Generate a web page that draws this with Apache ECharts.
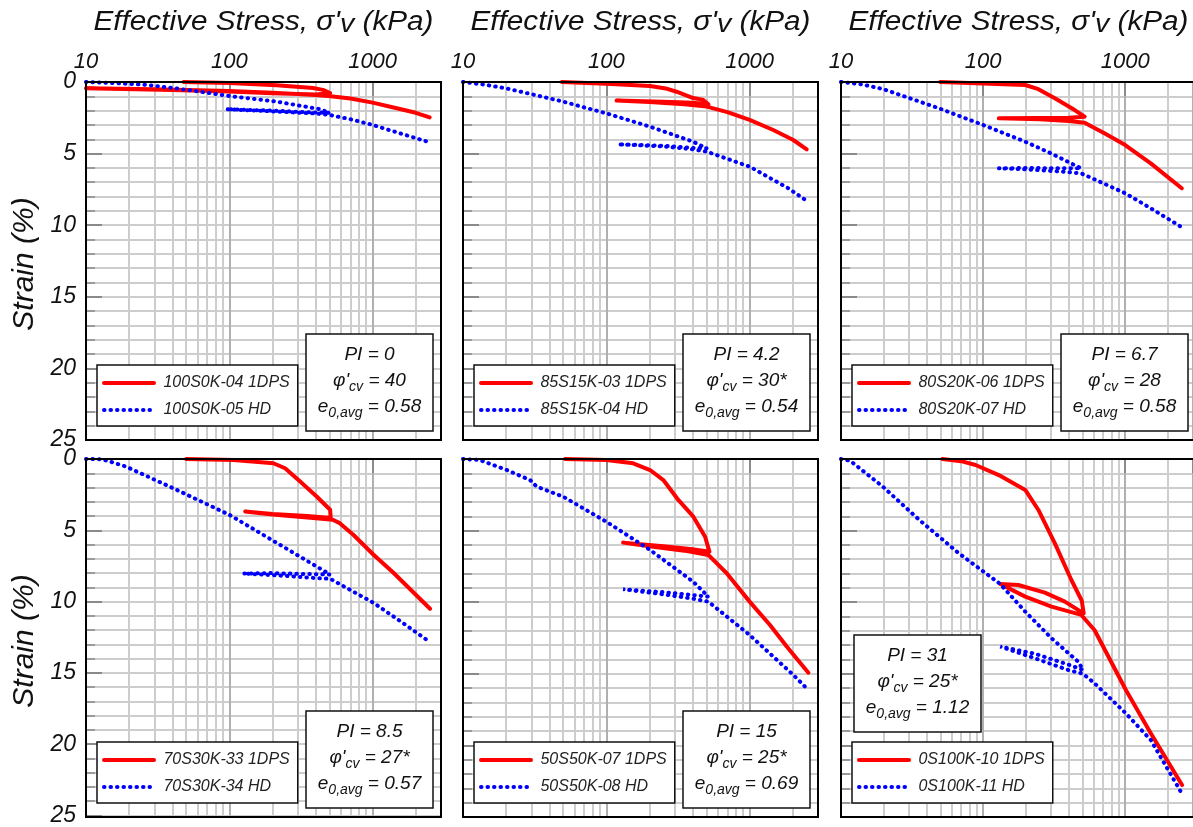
<!DOCTYPE html>
<html><head><meta charset="utf-8">
<script src="https://cdn.jsdelivr.net/npm/echarts@6/dist/echarts.min.js"></script>
<style>html,body{margin:0;padding:0;background:#fff}#c{width:1193px;height:827px}</style>
</head><body><div id="c"></div>
<script>
// ---------- data (stress kPa, strain %) ----------
const stressTickLabels = [10, 100, 1000];
const minorStressGrid = [20,30,40,50,60,70,80,90,200,300,400,500,600,700,800,900,2000];
const strainTickLabels = [0, 5, 10, 15, 20, 25];

const p1Red = [[48,0],[100,0.07],[214,0.23],[384,0.42],[450,0.55],[505,0.78],[510,0.9],[400,0.88],[200,0.78],[100,0.66],[40,0.55],[10,0.43],[30,0.5],[100,0.63],[200,0.75],[400,0.9],[510,1.0],[700,1.15],[1000,1.44],[1500,1.85],[2000,2.15],[2500,2.47]];
const p1Blue = [[10,0],[15,0.06],[25,0.18],[37,0.37],[60,0.65],[100,0.98],[214,1.37],[430,1.9],[500,2.15],[400,2.13],[200,2.0],[95,1.9],[200,2.05],[400,2.2],[500,2.3],[700,2.6],[1000,3.0],[1500,3.54],[2400,4.16]];

const p2Red = [[49,0],[100,0.12],[202,0.28],[260,0.45],[309,0.68],[404,1.12],[475,1.25],[515,1.55],[400,1.45],[250,1.38],[118,1.3],[200,1.4],[350,1.55],[502,1.72],[700,2.1],[1000,2.65],[1462,3.35],[2018,4.05],[2500,4.7]];
const p2Blue = [[10,0],[14,0.18],[20,0.44],[50,1.37],[100,2.19],[202,3.12],[404,4.17],[502,4.63],[400,4.6],[250,4.45],[121,4.35],[250,4.5],[400,4.7],[502,4.86],[1000,5.91],[1862,7.42],[2500,8.3]];

const p3Red = [[50,0],[100,0.1],[198,0.21],[245,0.5],[320,1.14],[441,1.96],[518,2.42],[400,2.5],[250,2.52],[129,2.54],[250,2.6],[400,2.72],[518,2.84],[714,3.58],[1000,4.4],[1513,5.68],[2500,7.42]];
const p3Blue = [[10,0],[14,0.16],[20,0.51],[49,1.84],[100,3.0],[198,4.17],[300,4.98],[490,6.03],[300,6.02],[200,6.0],[129,6.03],[200,6.1],[350,6.25],[490,6.38],[700,7.07],[1000,7.77],[1513,8.82],[2460,10.1]];

const p4Red = [[50,0],[107,0.07],[203,0.3],[245,0.65],[312,1.58],[407,2.63],[505,3.56],[510,4.14],[350,4.0],[200,3.85],[129,3.68],[200,3.9],[350,4.1],[527,4.26],[590,4.5],[733,5.31],[1011,6.7],[1397,7.98],[2515,10.5]];
const p4Blue = [[10,0],[13,0.02],[19,0.53],[40.6,2.05],[100,3.91],[215,5.89],[505,8.1],[300,8.05],[200,8.0],[125,8.03],[250,8.2],[400,8.35],[505,8.4],[1011,10.08],[1600,11.45],[2449,12.76]];

const p5Red = [[51.5,0],[100,0.07],[154,0.3],[202,0.77],[250,1.47],[318,2.86],[405,4.03],[489,5.43],[524,6.47],[400,6.3],[250,6.1],[131,5.84],[200,6.1],[350,6.4],[515,6.7],[558,7.05],[692,7.98],[1000,9.96],[1387,11.59],[1815,13.1],[2570,14.92]];
const p5Blue = [[10,0],[13.1,0.07],[20.2,0.77],[29.4,1.47],[32.7,1.93],[50,2.63],[100,4.38],[202,6.35],[404,8.57],[515,9.61],[400,9.5],[250,9.3],[131,9.1],[250,9.45],[400,9.75],[515,9.96],[1000,12.29],[2018,15.08],[2437,15.9]];

const p6Red = [[51.7,0],[70,0.15],[88.5,0.42],[129,1.12],[198,2.16],[245,3.56],[320,5.89],[418,8.45],[495,9.9],[510,10.78],[376,9.96],[272,9.33],[177,8.8],[132,8.73],[198,9.61],[303,10.31],[491,10.89],[608,11.94],[1011,16.13],[1513,19.15],[2512,22.77]];
const p6Blue = [[10,0],[11.6,0.12],[19.7,1.93],[35.6,4.26],[67.6,6.59],[132,8.73],[198,10.66],[303,12.52],[466,14.15],[505,14.73],[396,14.35],[232,13.6],[132,13.1],[232,13.92],[396,14.73],[505,15.0],[608,15.66],[1011,17.76],[1513,19.62],[2460,23.23]];

const seriesNames = [
  ['100S0K-04 1DPS', '100S0K-05 HD'],
  ['85S15K-03 1DPS', '85S15K-04 HD'],
  ['80S20K-06 1DPS', '80S20K-07 HD'],
  ['70S30K-33 1DPS', '70S30K-34 HD'],
  ['50S50K-07 1DPS', '50S50K-08 HD'],
  ['0S100K-10 1DPS', '0S100K-11 HD']
];
const infoPI = ['0', '4.2', '6.7', '8.5', '15', '31'];
const infoPhi = ['40', '30*', '28', '27*', '25*', '25*'];
const infoE0 = ['0.58', '0.54', '0.58', '0.57', '0.69', '1.12'];
const xTitle = "Effective Stress, σ'";
const yTitle = 'Strain (%)';

// ---------- layout ----------
const redData = [p1Red, p2Red, p3Red, p4Red, p5Red, p6Red];
const blueData = [p1Blue, p2Blue, p3Blue, p4Blue, p5Blue, p6Blue];
const FONT = '"Liberation Sans", Arial, sans-serif';
const panelLeft = [86, 463, 841];
const panelTop = [82, 459];
const PW = 355, PH = 358;

const grids = [], xAxes = [], yAxes = [], series = [], legends = [], graphics = [];
for (let r = 0; r < 2; r++) {
  for (let c = 0; c < 3; c++) {
    const i = r * 3 + c;
    const L = panelLeft[c], T = panelTop[r];
    grids.push({left: L, top: T, width: PW, height: PH, show: false, containLabel: false});
    xAxes.push({
      type: 'log', logBase: 10, min: 10, max: 3000, gridIndex: i, position: 'top',
      axisLine: {show: false},
      axisTick: {show: true, inside: true, length: 14, lineStyle: {color: '#8a8a8a', width: 2}},
      axisLabel: {show: r === 0, showMaxLabel: false, margin: 9, fontSize: 22, fontStyle: 'italic', color: '#111', fontFamily: FONT,
        formatter: v => { const n = Math.round(v); return stressTickLabels.indexOf(n) >= 0 ? String(n) : ''; }},
      splitLine: {show: true, lineStyle: {color: '#b0b0b0', width: 2}}
    });
    yAxes.push({
      type: 'value', gridIndex: i, inverse: true, min: 0, max: 25, interval: 5,
      axisLine: {show: false},
      axisTick: {show: true, inside: true, length: 16, lineStyle: {color: '#8a8a8a', width: 2}},
      minorTick: {show: true, splitNumber: 5, length: 9, lineStyle: {color: '#9a9a9a', width: 2}},
      splitLine: {show: true, lineStyle: {color: '#cdcdcd', width: 2}},
      minorSplitLine: {show: true, lineStyle: {color: '#cdcdcd', width: 2}},
      axisLabel: {show: c === 0, margin: 10, fontSize: 23, fontStyle: 'italic', color: '#111', fontFamily: FONT,
        formatter: v => strainTickLabels.indexOf(v) >= 0 ? String(v) : ''}
    });
    series.push({
      type: 'line', xAxisIndex: i, yAxisIndex: i, data: [], z: 1, silent: true, animation: false,
      markLine: {z: 1, silent: true, symbol: ['none', 'none'], label: {show: false}, animation: false,
        lineStyle: {color: '#cdcdcd', width: 2, type: 'solid'},
        emphasis: {disabled: true},
        data: minorStressGrid.map(v => ({xAxis: v}))}
    });
    series.push({
      type: 'line', name: seriesNames[i][0], xAxisIndex: i, yAxisIndex: i, data: redData[i],
      symbol: 'none', z: 3, animation: false, silent: true,
      lineStyle: {color: '#ff0000', width: 4, cap: 'round', join: 'round'}, itemStyle: {color: '#ff0000'}
    });
    series.push({
      type: 'line', name: seriesNames[i][1], xAxisIndex: i, yAxisIndex: i, data: blueData[i],
      symbol: 'none', z: 3, animation: false, silent: true,
      lineStyle: {color: '#0000ff', width: 4, type: [0.5, 6], cap: 'round'}, itemStyle: {color: '#0000ff'}
    });
    legends.push({
      data: seriesNames[i], orient: 'vertical', left: L + 11, top: T + 283,
      padding: [10, 8, 8, 5], itemGap: 11, itemWidth: 50, itemHeight: 14,
      backgroundColor: '#fff', borderColor: '#111', borderWidth: 1.5, borderRadius: 0,
      selectedMode: false, itemStyle: {opacity: 0}, lineStyle: {width: 4},
      formatter: n => ' ' + n,
      textStyle: {fontStyle: 'italic', fontSize: 16, color: '#222', fontFamily: FONT}
    });
    // panel border
    graphics.push({type: 'rect', z: 50, silent: true, shape: {x: L, y: T, width: PW, height: PH},
      style: {fill: 'transparent', stroke: '#000000', lineWidth: 2}});
    // info box
    const bx = i === 5 ? L + 13 : L + 220;
    const by = i === 5 ? T + 176 : T + 252;
    graphics.push({type: 'group', x: bx, y: by, z: 60, silent: true, children: [
      {type: 'rect', z: 60, shape: {x: 0, y: 0, width: 127, height: 97}, style: {fill: '#fff', stroke: '#111', lineWidth: 1.5}},
      {type: 'text', z: 61, x: 63.5, y: 47, style: {
        text: '{m|PI = ' + infoPI[i] + '}\n{m|φ\'}{s|cv}{m| = ' + infoPhi[i] + '}\n{m|e}{s|0,avg}{m| = ' + infoE0[i] + '}',
        align: 'center', verticalAlign: 'middle', fill: '#111',
        rich: {
          m: {fontSize: 19, fontStyle: 'italic', fontFamily: FONT, lineHeight: 26, fill: '#111'},
          s: {fontSize: 14, fontStyle: 'italic', fontFamily: FONT, lineHeight: 10, verticalAlign: 'bottom', fill: '#111'}
        }}}
    ]});
  }
}
// column titles
for (let c = 0; c < 3; c++) {
  graphics.push({type: 'text', z: 60, silent: true, x: panelLeft[c] + PW / 2, y: 22, scaleX: 1.1, style: {
    text: '{t|' + xTitle + '}{v|v}{t| (kPa)}', align: 'center', verticalAlign: 'middle', fill: '#111',
    rich: {
      t: {fontSize: 27, fontStyle: 'italic', fontFamily: FONT, lineHeight: 32, fill: '#111'},
      v: {fontSize: 26, fontStyle: 'italic', fontFamily: FONT, lineHeight: 18, verticalAlign: 'bottom', fill: '#111'}
    }}});
}
// row titles
for (let r = 0; r < 2; r++) {
  graphics.push({type: 'text', z: 60, silent: true, x: 25, y: panelTop[r] + PH / 2 + 3, rotation: Math.PI / 2, style: {
    text: yTitle, align: 'center', verticalAlign: 'middle', fill: '#111',
    font: 'italic 30px ' + FONT}});
}

const chart = echarts.init(document.getElementById('c'), null, {renderer: 'canvas', width: 1193, height: 827});
chart.setOption({
  animation: false,
  backgroundColor: '#fff',
  textStyle: {fontFamily: FONT},
  grid: grids, xAxis: xAxes, yAxis: yAxes, series: series, legend: legends,
  graphic: {elements: graphics}
});
</script></body></html>
